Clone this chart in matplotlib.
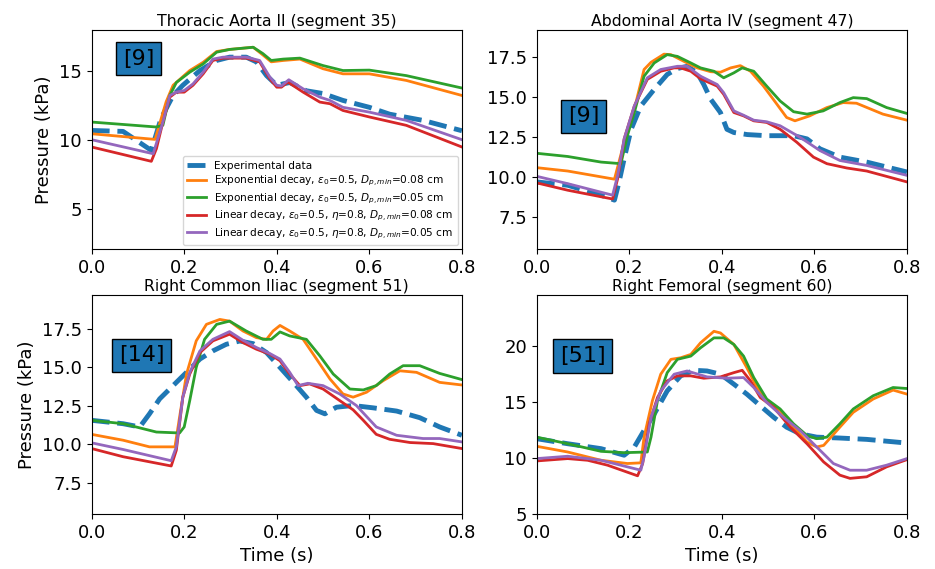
import matplotlib
matplotlib.use("Agg")
import matplotlib.pyplot as plt

# ---------------- data ----------------
titles = ["Thoracic Aorta II (segment 35)", "Abdominal Aorta IV (segment 47)",
          "Right Common Iliac (segment 51)", "Right Femoral (segment 60)"]
refs = ["[9]", "[9]", "[14]", "[51]"]
labels = ["Experimental data",
          r"Exponential decay, $\epsilon_0$=0.5, $D_{p,min}$=0.08 cm",
          r"Exponential decay, $\epsilon_0$=0.5, $D_{p,min}$=0.05 cm",
          r"Linear decay, $\epsilon_0$=0.5, $\eta$=0.8, $D_{p,min}$=0.08 cm",
          r"Linear decay, $\epsilon_0$=0.5, $\eta$=0.8, $D_{p,min}$=0.05 cm"]

# Panel 1: Thoracic Aorta II
p1_exp_t = [0, 0.068, 0.129, 0.15, 0.176, 0.197, 0.234, 0.27, 0.298, 0.334, 0.356, 0.378, 0.4, 0.428, 0.464, 0.5, 0.543, 0.6, 0.644, 0.716, 0.8]
p1_exp_p = [10.72, 10.65, 9.27, 11.6, 13.26, 14.0, 15.07, 15.8, 16.04, 16.04, 15.7, 14.7, 14.0, 14.2, 13.6, 13.4, 12.9, 12.4, 11.9, 11.45, 10.7]
p1_eo_t = [0, 0.137, 0.161, 0.176, 0.212, 0.241, 0.27, 0.298, 0.349, 0.37, 0.388, 0.414, 0.45, 0.5, 0.543, 0.6, 0.68, 0.8]
p1_eo_p = [10.48, 10.07, 12.8, 14.0, 15.07, 15.67, 16.45, 16.6, 16.76, 16.2, 15.7, 15.8, 15.9, 15.2, 14.83, 14.83, 14.35, 13.26]
p1_eg_t = [0, 0.14, 0.154, 0.169, 0.183, 0.212, 0.241, 0.27, 0.298, 0.349, 0.37, 0.388, 0.414, 0.45, 0.5, 0.543, 0.6, 0.68, 0.8]
p1_eg_p = [11.33, 10.97, 11.1, 13.26, 14.2, 14.95, 15.55, 16.4, 16.6, 16.76, 16.3, 15.8, 15.9, 15.97, 15.43, 15.07, 15.1, 14.7, 13.8]
p1_lr_t = [0, 0.129, 0.14, 0.154, 0.169, 0.183, 0.2, 0.219, 0.241, 0.262, 0.284, 0.334, 0.363, 0.385, 0.4, 0.41, 0.424, 0.457, 0.493, 0.515, 0.543, 0.6, 0.68, 0.8]
p1_lr_p = [9.52, 8.48, 9.4, 11.33, 13.14, 13.5, 13.5, 14.0, 14.83, 15.8, 15.97, 15.97, 15.7, 14.47, 13.86, 13.86, 14.23, 13.5, 12.78, 12.66, 12.17, 11.7, 11.09, 9.52]
p1_lp_t = [0, 0.133, 0.154, 0.169, 0.183, 0.2, 0.219, 0.241, 0.262, 0.284, 0.334, 0.363, 0.385, 0.4, 0.41, 0.426, 0.457, 0.493, 0.515, 0.543, 0.6, 0.68, 0.8]
p1_lp_p = [10.05, 9.03, 11.33, 13.26, 13.5, 13.62, 14.1, 14.95, 15.9, 16.04, 16.04, 15.8, 14.6, 14.0, 13.95, 14.4, 13.74, 13.14, 12.9, 12.4, 12.05, 11.45, 10.05]

# Panel 2: Abdominal Aorta IV
p2_exp_t = [0, 0.067, 0.139, 0.168, 0.178, 0.189, 0.204, 0.225, 0.254, 0.282, 0.304, 0.325, 0.347, 0.361, 0.376, 0.397, 0.411, 0.426, 0.455, 0.497, 0.555, 0.584, 0.612, 0.655, 0.713, 0.8]
p2_exp_p = [9.71, 9.5, 8.88, 8.57, 9.71, 11.16, 13.0, 14.46, 15.5, 16.43, 16.8, 16.94, 16.53, 15.8, 14.88, 14.05, 13.0, 12.8, 12.67, 12.6, 12.6, 12.4, 11.78, 11.26, 10.95, 10.33]
p2_eo_t = [0, 0.067, 0.168, 0.189, 0.211, 0.232, 0.247, 0.275, 0.29, 0.318, 0.347, 0.376, 0.397, 0.419, 0.44, 0.462, 0.49, 0.519, 0.54, 0.558, 0.59, 0.627, 0.662, 0.691, 0.748, 0.8]
p2_eo_p = [10.6, 10.39, 9.88, 12.19, 14.26, 16.74, 17.19, 17.7, 17.67, 17.25, 16.84, 16.6, 16.57, 16.84, 16.98, 16.63, 15.7, 14.57, 13.74, 13.53, 13.84, 14.36, 14.67, 14.63, 13.95, 13.57]
p2_eg_t = [0, 0.067, 0.139, 0.182, 0.196, 0.211, 0.232, 0.254, 0.282, 0.304, 0.333, 0.354, 0.383, 0.404, 0.426, 0.444, 0.469, 0.497, 0.526, 0.555, 0.584, 0.619, 0.655, 0.684, 0.713, 0.756, 0.8]
p2_eg_p = [11.5, 11.3, 10.95, 10.85, 12.6, 14.05, 16.32, 17.15, 17.67, 17.56, 17.15, 16.84, 16.63, 16.22, 16.53, 16.84, 16.63, 15.7, 14.77, 14.1, 13.95, 14.15, 14.67, 14.98, 14.92, 14.36, 13.99]
p2_lr_t = [0, 0.067, 0.164, 0.175, 0.189, 0.211, 0.239, 0.268, 0.297, 0.311, 0.333, 0.354, 0.39, 0.404, 0.426, 0.447, 0.469, 0.497, 0.526, 0.562, 0.598, 0.627, 0.67, 0.713, 0.8]
p2_lr_p = [9.65, 9.19, 8.64, 9.92, 12.4, 14.46, 16.12, 16.63, 16.84, 16.84, 16.63, 16.16, 15.7, 15.19, 14.05, 13.84, 13.53, 13.43, 13.0, 12.19, 11.26, 10.85, 10.58, 10.39, 9.71]
p2_lp_t = [0, 0.067, 0.164, 0.175, 0.189, 0.211, 0.239, 0.268, 0.304, 0.325, 0.354, 0.39, 0.404, 0.426, 0.447, 0.469, 0.497, 0.526, 0.569, 0.612, 0.655, 0.713, 0.8]
p2_lp_p = [10.06, 9.6, 8.88, 10.12, 12.4, 14.46, 16.22, 16.74, 16.94, 16.94, 16.32, 15.8, 15.29, 14.15, 13.88, 13.57, 13.47, 13.22, 12.5, 11.67, 11.05, 10.74, 10.12]

# Panel 3: Right Common Iliac
p3_exp_t = [0, 0.068, 0.104, 0.125, 0.147, 0.176, 0.205, 0.234, 0.262, 0.291, 0.32, 0.349, 0.378, 0.407, 0.436, 0.464, 0.486, 0.504, 0.529, 0.565, 0.608, 0.659, 0.709, 0.752, 0.8]
p3_exp_p = [11.56, 11.34, 11.13, 11.98, 12.95, 13.81, 14.67, 15.53, 16.06, 16.49, 16.7, 16.53, 15.95, 14.99, 14.02, 13.06, 12.2, 11.98, 12.41, 12.52, 12.37, 12.16, 11.73, 11.13, 10.59]
p3_eo_t = [0, 0.068, 0.125, 0.18, 0.19, 0.205, 0.226, 0.248, 0.277, 0.298, 0.327, 0.356, 0.378, 0.392, 0.407, 0.428, 0.457, 0.486, 0.515, 0.543, 0.565, 0.594, 0.63, 0.666, 0.702, 0.752, 0.8]
p3_eo_p = [10.65, 10.27, 9.84, 9.84, 11.77, 14.56, 16.71, 17.78, 18.1, 17.99, 17.35, 16.92, 16.81, 17.35, 17.71, 17.35, 16.81, 15.53, 14.24, 13.27, 13.06, 13.38, 14.13, 14.77, 14.67, 14.02, 13.85]
p3_eg_t = [0, 0.068, 0.14, 0.19, 0.2, 0.212, 0.226, 0.244, 0.27, 0.298, 0.334, 0.37, 0.388, 0.407, 0.428, 0.464, 0.493, 0.522, 0.558, 0.587, 0.615, 0.644, 0.673, 0.709, 0.752, 0.8]
p3_eg_p = [11.56, 11.34, 10.8, 10.74, 11.13, 12.84, 14.99, 16.81, 17.78, 17.99, 17.35, 16.81, 16.81, 17.29, 17.03, 16.81, 15.74, 14.56, 13.59, 13.53, 13.81, 14.56, 15.1, 15.1, 14.6, 14.2]
p3_lr_t = [0, 0.068, 0.172, 0.183, 0.197, 0.212, 0.234, 0.262, 0.298, 0.327, 0.356, 0.385, 0.407, 0.428, 0.45, 0.471, 0.5, 0.536, 0.565, 0.587, 0.615, 0.644, 0.688, 0.738, 0.8]
p3_lr_p = [9.73, 9.2, 8.6, 9.62, 13.06, 14.56, 15.95, 16.71, 17.14, 16.6, 16.17, 15.85, 15.42, 14.56, 13.81, 13.92, 13.59, 12.84, 12.24, 11.56, 10.65, 10.33, 10.12, 10.05, 9.73]
p3_lp_t = [0, 0.068, 0.172, 0.183, 0.197, 0.212, 0.234, 0.262, 0.298, 0.327, 0.356, 0.385, 0.407, 0.428, 0.446, 0.467, 0.5, 0.536, 0.572, 0.615, 0.659, 0.716, 0.752, 0.8]
p3_lp_p = [10.1, 9.67, 8.94, 9.84, 13.06, 14.67, 16.06, 16.81, 17.31, 16.75, 16.28, 15.89, 15.53, 14.67, 13.81, 13.96, 13.81, 13.27, 12.52, 11.13, 10.59, 10.38, 10.38, 10.16]

# Panel 4: Right Femoral
p4_exp_t = [0, 0.067, 0.139, 0.189, 0.211, 0.232, 0.254, 0.282, 0.311, 0.34, 0.368, 0.397, 0.426, 0.454, 0.483, 0.512, 0.54, 0.569, 0.605, 0.655, 0.713, 0.8]
p4_exp_p = [11.72, 11.27, 10.83, 10.24, 10.98, 12.46, 13.93, 16.0, 17.34, 17.84, 17.78, 17.49, 16.6, 15.71, 14.67, 13.64, 12.75, 12.16, 11.86, 11.78, 11.66, 11.33]
p4_eo_t = [0, 0.067, 0.139, 0.196, 0.225, 0.232, 0.25, 0.268, 0.29, 0.311, 0.333, 0.354, 0.383, 0.397, 0.426, 0.454, 0.476, 0.497, 0.526, 0.555, 0.584, 0.605, 0.62, 0.655, 0.684, 0.727, 0.77, 0.8]
p4_eo_p = [11.04, 10.53, 9.79, 9.5, 9.56, 11.86, 15.12, 17.49, 18.82, 18.96, 19.26, 20.3, 21.33, 21.18, 20.15, 18.08, 16.3, 15.12, 14.23, 12.75, 11.42, 10.98, 11.12, 12.75, 14.08, 15.27, 16.07, 15.71]
p4_eg_t = [0, 0.067, 0.139, 0.189, 0.239, 0.247, 0.261, 0.282, 0.304, 0.333, 0.354, 0.383, 0.404, 0.426, 0.447, 0.469, 0.497, 0.526, 0.555, 0.584, 0.605, 0.627, 0.655, 0.684, 0.727, 0.77, 0.8]
p4_eg_p = [11.86, 11.27, 10.59, 10.47, 10.53, 11.86, 15.12, 17.63, 18.82, 19.11, 19.85, 20.74, 20.74, 20.15, 19.11, 17.19, 15.27, 14.38, 13.05, 12.01, 11.72, 11.86, 13.05, 14.38, 15.56, 16.3, 16.21]
p4_lr_t = [0, 0.067, 0.11, 0.153, 0.218, 0.229, 0.243, 0.261, 0.282, 0.304, 0.333, 0.361, 0.397, 0.426, 0.444, 0.462, 0.483, 0.512, 0.548, 0.584, 0.62, 0.655, 0.677, 0.713, 0.756, 0.8]
p4_lr_p = [9.73, 9.94, 9.79, 9.35, 8.4, 9.5, 13.05, 15.41, 16.89, 17.34, 17.34, 17.13, 17.25, 17.63, 17.84, 16.89, 15.41, 14.53, 12.75, 11.27, 9.64, 8.46, 8.17, 8.31, 9.2, 9.85]
p4_lp_t = [0, 0.067, 0.139, 0.225, 0.232, 0.247, 0.268, 0.297, 0.325, 0.368, 0.411, 0.447, 0.469, 0.497, 0.533, 0.569, 0.605, 0.641, 0.677, 0.713, 0.756, 0.8]
p4_lp_p = [9.94, 10.15, 9.79, 8.9, 10.09, 13.64, 16.0, 17.49, 17.78, 17.25, 17.13, 17.19, 16.3, 14.97, 13.64, 12.46, 10.98, 9.5, 8.9, 8.9, 9.35, 9.94]

panels = [
    [(p1_exp_t, p1_exp_p), (p1_eo_t, p1_eo_p), (p1_eg_t, p1_eg_p), (p1_lr_t, p1_lr_p), (p1_lp_t, p1_lp_p)],
    [(p2_exp_t, p2_exp_p), (p2_eo_t, p2_eo_p), (p2_eg_t, p2_eg_p), (p2_lr_t, p2_lr_p), (p2_lp_t, p2_lp_p)],
    [(p3_exp_t, p3_exp_p), (p3_eo_t, p3_eo_p), (p3_eg_t, p3_eg_p), (p3_lr_t, p3_lr_p), (p3_lp_t, p3_lp_p)],
    [(p4_exp_t, p4_exp_p), (p4_eo_t, p4_eo_p), (p4_eg_t, p4_eg_p), (p4_lr_t, p4_lr_p), (p4_lp_t, p4_lp_p)],
]
ylims = [(2.1, 18.0), (5.5, 19.2), (5.5, 19.7), (5.0, 24.6)]
ref_pos = [(0.127, 0.87), (0.126, 0.607), (0.135, 0.724), (0.124, 0.72)]

colors = ["#1f77b4", "#ff7f0e", "#2ca02c", "#d62728", "#9467bd"]

# ---------------- figure ----------------
fig = plt.figure(figsize=(9.35, 5.69), dpi=100)
boxes = [(0.098, 0.562), (0.574, 0.562), (0.098, 0.097), (0.574, 0.097)]
w, h = 0.396, 0.385

for i in range(4):
    ax = fig.add_axes([boxes[i][0], boxes[i][1], w, h])
    for j, (t, p) in enumerate(panels[i]):
        if j == 0:
            ax.plot(t, p, color=colors[j], lw=3.5, ls="--", label=labels[j])
        else:
            ax.plot(t, p, color=colors[j], lw=2, label=labels[j])
    ax.set_xlim(0, 0.8)
    ax.set_ylim(*ylims[i])
    ax.set_xticks([0.0, 0.2, 0.4, 0.6, 0.8])
    ax.tick_params(labelsize=13)
    ax.set_title(titles[i], fontsize=11.3, pad=3)
    ax.text(ref_pos[i][0], ref_pos[i][1], refs[i], transform=ax.transAxes,
            fontsize=16, ha="center", va="center",
            bbox=dict(boxstyle="square,pad=0.3", facecolor="#1f77b4", edgecolor="black"))
    if i in (0, 2):
        ax.set_ylabel("Pressure (kPa)", fontsize=13)
    if i in (2, 3):
        ax.set_xlabel("Time (s)", fontsize=13)
    if i == 0:
        ax.legend(loc="lower right", fontsize=7.6, labelspacing=0.3,
                  handlelength=1.8, borderaxespad=0.4)

fig.savefig("out.png", dpi=100)
